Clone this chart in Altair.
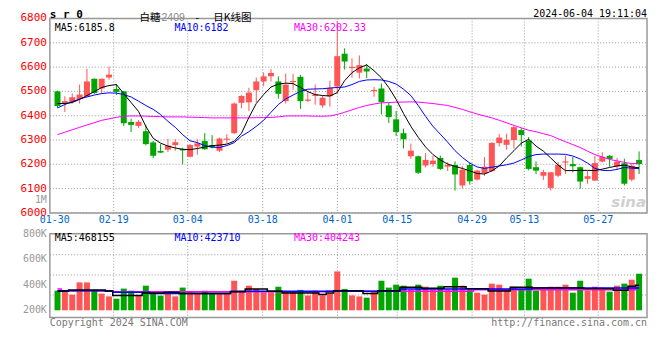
import altair as alt
import pandas as pd

# ---------------- data ----------------
opens = [6500, 6449, 6457, 6469, 6480, 6552, 6512, 6557, 6510, 6500,
         6374, 6358, 6336, 6290, 6255, 6260, 6279, 6263, 6231, 6273,
         6296, 6279, 6256, 6301, 6328, 6453, 6455, 6505, 6541, 6562,
         6541, 6460, 6538, 6560, 6462, 6481, 6442, 6480, 6520, 6655,
         6596, 6577, 6594, 6501, 6512, 6442, 6385, 6328, 6233, 6233,
         6195, 6201, 6226, 6190, 6197, 6113, 6197, 6137, 6163, 6172,
         6287, 6280, 6300, 6341, 6297, 6188, 6153, 6103, 6153, 6207,
         6201, 6188, 6140, 6133, 6211, 6235, 6192, 6204, 6137, 6218]
highs = [6503, 6480, 6492, 6528, 6593, 6553, 6553, 6602, 6530, 6502,
         6388, 6382, 6362, 6296, 6283, 6305, 6303, 6268, 6284, 6303,
         6328, 6320, 6310, 6324, 6455, 6485, 6515, 6557, 6578, 6592,
         6562, 6573, 6572, 6568, 6503, 6528, 6482, 6544, 6790, 6677,
         6636, 6648, 6613, 6518, 6532, 6453, 6419, 6347, 6285, 6236,
         6246, 6235, 6236, 6208, 6212, 6192, 6208, 6178, 6230, 6291,
         6325, 6326, 6360, 6350, 6312, 6212, 6178, 6168, 6210, 6236,
         6230, 6190, 6172, 6235, 6250, 6239, 6226, 6223, 6201, 6253]
lows = [6432, 6415, 6450, 6450, 6478, 6490, 6490, 6548, 6485, 6358,
        6333, 6350, 6278, 6225, 6247, 6250, 6256, 6200, 6228, 6240,
        6260, 6265, 6250, 6285, 6325, 6430, 6420, 6455, 6521, 6541,
        6470, 6450, 6507, 6428, 6456, 6445, 6433, 6437, 6490, 6590,
        6556, 6553, 6555, 6478, 6405, 6370, 6317, 6265, 6222, 6160,
        6187, 6190, 6176, 6172, 6092, 6100, 6116, 6133, 6153, 6168,
        6273, 6260, 6265, 6273, 6175, 6160, 6136, 6092, 6147, 6160,
        6167, 6099, 6120, 6132, 6207, 6190, 6180, 6113, 6130, 6160]
closes = [6440, 6460, 6476, 6487, 6541, 6493, 6552, 6569, 6498, 6369,
          6362, 6375, 6283, 6235, 6248, 6277, 6291, 6257, 6279, 6286,
          6262, 6269, 6306, 6306, 6450, 6481, 6495, 6541, 6562, 6576,
          6490, 6528, 6543, 6460, 6467, 6487, 6474, 6514, 6645, 6623,
          6601, 6608, 6582, 6506, 6456, 6394, 6333, 6303, 6256, 6165,
          6218, 6215, 6181, 6197, 6158, 6178, 6130, 6174, 6190, 6288,
          6310, 6301, 6353, 6320, 6181, 6174, 6168, 6167, 6197, 6212,
          6192, 6129, 6151, 6205, 6231, 6222, 6211, 6120, 6194, 6201]
ma5 = [6450, 6450, 6454, 6467, 6483, 6499, 6516, 6524, 6528, 6491,
       6454, 6418, 6356, 6307, 6287, 6275, 6267, 6262, 6260, 6265,
       6271, 6277, 6279, 6283, 6295, 6328, 6393, 6450, 6487, 6518,
       6530, 6534, 6532, 6516, 6499, 6487, 6483, 6481, 6495, 6544,
       6577, 6597, 6609, 6585, 6556, 6516, 6467, 6409, 6356, 6311,
       6271, 6240, 6218, 6201, 6191, 6183, 6173, 6162, 6160, 6173,
       6193, 6226, 6256, 6287, 6303, 6275, 6254, 6226, 6197, 6174,
       6174, 6175, 6175, 6174, 6180, 6187, 6193, 6197, 6189, 6185.8]
ma10 = [6432, 6446, 6458, 6469, 6477, 6485, 6491, 6494, 6493, 6487,
        6477, 6460, 6442, 6426, 6405, 6377, 6352, 6322, 6297, 6289,
        6277, 6271, 6269, 6277, 6289, 6316, 6334, 6356, 6381, 6414,
        6446, 6469, 6485, 6500, 6509, 6510, 6511, 6514, 6516, 6518,
        6528, 6541, 6547, 6548, 6547, 6541, 6530, 6509, 6483, 6442,
        6397, 6356, 6324, 6291, 6256, 6228, 6205, 6189, 6183, 6188,
        6193, 6198, 6205, 6218, 6232, 6240, 6242, 6242, 6242, 6241,
        6234, 6222, 6205, 6183, 6175, 6174, 6179, 6187, 6184, 6182]
ma30 = [6322, 6332, 6342, 6352, 6362, 6371, 6381, 6387, 6393, 6398,
        6399, 6399, 6398, 6397, 6396, 6395, 6395, 6395, 6394, 6393,
        6392, 6391, 6391, 6391, 6391, 6391, 6391, 6392, 6392, 6393,
        6395, 6399, 6399, 6399, 6399, 6398, 6398, 6399, 6405, 6414,
        6424, 6434, 6442, 6448, 6453, 6454, 6456, 6456, 6457, 6456,
        6453, 6450, 6446, 6442, 6434, 6426, 6416, 6407, 6399, 6391,
        6381, 6371, 6360, 6350, 6340, 6334, 6326, 6318, 6305, 6293,
        6281, 6269, 6254, 6240, 6230, 6220, 6214, 6208, 6203, 6202.33]
volumes = [354, 349, 323, 419, 419, 354, 331, 309, 291, 370,
           354, 317, 393, 336, 315, 341, 309, 378, 346, 331,
           354, 333, 331, 331, 432, 354, 393, 367, 341, 341,
           385, 349, 349, 360, 317, 354, 317, 331, 505, 367,
           317, 309, 299, 346, 432, 378, 401, 393, 362, 401,
           385, 362, 393, 362, 456, 393, 362, 338, 323, 409,
           401, 362, 385, 362, 448, 354, 370, 385, 385, 401,
           338, 432, 354, 385, 378, 346, 393, 409, 440, 487]
vma5 = [349, 349, 360, 360, 360, 360, 360, 349, 317, 317,
        317, 317, 336, 336, 336, 341, 341, 331, 331, 331,
        331, 331, 331, 331, 346, 346, 367, 367, 367, 349,
        349, 336, 336, 336, 336, 336, 323, 336, 354, 354,
        354, 354, 331, 331, 354, 354, 354, 380, 380, 380,
        372, 372, 372, 385, 385, 385, 370, 370, 370, 351,
        351, 351, 380, 380, 380, 375, 375, 375, 375, 375,
        375, 375, 370, 370, 370, 370, 357, 357, 388, 396]
vma10 = [354, 354, 354, 354, 354, 354, 354, 354, 341, 341,
         341, 341, 341, 331, 331, 331, 331, 331, 331, 331,
         331, 331, 331, 331, 349, 349, 349, 349, 349, 349,
         349, 349, 349, 349, 349, 349, 349, 349, 349, 349,
         349, 349, 349, 349, 349, 349, 349, 367, 367, 367,
         367, 367, 367, 367, 367, 367, 367, 367, 367, 367,
         367, 367, 367, 367, 367, 375, 375, 375, 375, 375,
         375, 375, 375, 375, 375, 375, 375, 375, 375, 375]
vma30 = [367, 354, 354, 354, 354, 354, 354, 354, 346, 346,
         346, 346, 346, 346, 346, 346, 346, 346, 346, 346,
         346, 346, 346, 346, 346, 346, 346, 346, 346, 346,
         346, 346, 346, 346, 346, 346, 346, 349, 349, 349,
         349, 349, 349, 349, 349, 349, 349, 349, 349, 349,
         349, 349, 349, 349, 349, 349, 349, 362, 362, 362,
         362, 362, 362, 362, 362, 362, 362, 362, 362, 362,
         362, 362, 362, 362, 362, 362, 362, 362, 362, 380]

tick_pos = [-0.36, 7.63, 17.68, 27.87, 38.03, 46.15, 56.32, 63.42, 73.45]
tick_labels = ["01-30", "02-19", "03-04", "03-18", "04-01", "04-15", "04-29", "05-13", "05-27"]
price_ticks = [6000, 6100, 6200, 6300, 6400, 6500, 6600, 6700, 6800]
vol_ticks = [200, 400, 600, 800]
vol_tick_labels = ["200K", "400K", "600K", "800K"]
vol_grid = [320, 477, 636]

# ---------------- styling ----------------
MONO = "DejaVu Sans Mono"
CJK = "Noto Sans CJK SC"
RED = "#ff5555"
GREEN = "#00a600"
GRID = "#9a9a9a"
FRAME = "#999999"
W, PH, VT, VB = 599, 195, 216, 300

df = pd.DataFrame({
    "i": list(range(len(opens))), "open": opens, "high": highs, "low": lows,
    "close": closes, "vol": volumes, "ma5": ma5, "ma10": ma10, "ma30": ma30,
    "vma5": vma5, "vma10": vma10, "vma30": vma30,
})
ticks = pd.DataFrame({"pos": tick_pos, "label": tick_labels})
vlabels = pd.DataFrame({"v": vol_ticks, "label": vol_tick_labels})
vgrid = pd.DataFrame({"v": vol_grid})
pgrid = pd.DataFrame({"p": price_ticks})

xscale = alt.Scale(domain=[-0.36, 79.4], nice=False, zero=False)
pscale = alt.Scale(domain=[6000, 6800], range=[PH, 0], nice=False, zero=False)
vscale = alt.Scale(domain=[200, 800], range=[292.7, VT], nice=False, zero=False)
color = alt.Color("dir:N", scale=alt.Scale(domain=["up", "down"], range=[RED, GREEN]), legend=None)


def X(field):
    return alt.X(f"{field}:Q", scale=xscale, axis=None)


def PY(field):
    return alt.Y(f"{field}:Q", scale=pscale, axis=None)


def VY(field):
    return alt.Y(f"{field}:Q", scale=vscale, axis=None)


def label(text, x, y, color="black", size=10, align="left", font=MONO, weight="normal",
          style="normal", baseline="middle"):
    return alt.Chart(pd.DataFrame({"t": [text]})).mark_text(
        align=align, baseline=baseline, color=color, fontSize=size, font=font,
        fontWeight=weight, fontStyle=style
    ).encode(x=alt.value(x), y=alt.value(y), text="t:N")


base = alt.Chart(df).transform_calculate(dir="datum.close >= datum.open ? 'up' : 'down'")

# price gridlines and tick labels (drawn through the price scale)
hgrid_main = alt.Chart(pgrid).mark_rule(color=GRID, strokeDash=[1, 2]).encode(
    y=PY("p"), x=alt.value(0), x2=alt.value(W))
plabels = alt.Chart(pgrid).mark_text(align="right", baseline="middle", color="#ff0000",
                                     font=MONO, fontSize=11).encode(
    x=alt.value(-3), y=PY("p"), text=alt.Text("p:Q", format="d"))

vgrid_main = alt.Chart(ticks).transform_filter("datum.pos > 0").mark_rule(
    color=GRID, strokeDash=[1, 2]).encode(x=X("pos"), y=alt.value(0), y2=alt.value(PH))
xlabels = alt.Chart(ticks).mark_text(color="#0066cc", font=MONO, fontSize=10, baseline="middle").encode(
    x=X("pos"), y=alt.value(202.5), text="label:N")
watermark = label("sina", 598, 184, color="#d0d0d0", size=15, align="right",
                  font="DejaVu Sans", weight="bold", style="italic")

wicks = base.mark_rule(strokeWidth=1).encode(x=X("i"), y=PY("low"), y2="high:Q", color=color)
bodies = base.mark_bar(size=6).encode(x=X("i"), y=PY("open"), y2="close:Q", color=color)
l5 = base.mark_line(color="black", strokeWidth=1).encode(x=X("i"), y=PY("ma5"))
l10 = base.mark_line(color="#0000ff", strokeWidth=1).encode(x=X("i"), y=PY("ma10"))
l30 = base.mark_line(color="#ff00ff", strokeWidth=1).encode(x=X("i"), y=PY("ma30"))
frame_main = alt.Chart(pd.DataFrame({"a": [0]})).mark_rect(
    fill="white", fillOpacity=0, stroke=FRAME, strokeWidth=1.5).encode(
    x=alt.value(0), x2=alt.value(W), y=alt.value(0), y2=alt.value(PH))

TOP = -9.5
BASE_CJK = 2.2
LEG = 10
price_group = alt.layer(
    hgrid_main, vgrid_main, watermark, wicks, bodies, l30, l10, l5, frame_main, xlabels, plabels,
    label("s r 0", 0, TOP, size=11, weight="bold", baseline="top"),
    label("白糖", 90, BASE_CJK, size=10.5, font=CJK, baseline="alphabetic"),
    label("2409", 112, BASE_CJK, color="#888888", size=10.5, font="Liberation Sans", baseline="alphabetic"),
    label("-", 146, BASE_CJK, size=10.5, font=CJK, baseline="alphabetic"),
    label("日K线图", 164, BASE_CJK, size=10.5, font=CJK, baseline="alphabetic"),
    label("2024-06-04 19:11:04", W, TOP, size=10, align="right", baseline="top"),
    label("MA5:6185.8", 5, LEG),
    label("MA10:6182", 125, LEG, color="#0000ff"),
    label("MA30:6202.33", 245, LEG, color="#ff00ff"),
    label("1M", -3, 182, color="#999999", size=10, align="right"),
)

vgrid_vol = alt.Chart(ticks).transform_filter("datum.pos > 0").mark_rule(
    color=GRID, strokeDash=[1, 2]).encode(x=X("pos"), y=alt.value(VT), y2=alt.value(303))
hgrid_vol = alt.Chart(vgrid).mark_rule(color=GRID, strokeDash=[1, 2]).encode(
    y=VY("v"), x=alt.value(0), x2=alt.value(W))
vbars = base.mark_bar(size=6).encode(x=X("i"), y=VY("vol"), y2=alt.datum(200), color=color)
v5 = base.mark_line(color="black", strokeWidth=1.5, interpolate="step").encode(x=X("i"), y=VY("vma5"))
v10 = base.mark_line(color="#0000ff", strokeWidth=1.5, interpolate="step").encode(x=X("i"), y=VY("vma10"))
v30 = base.mark_line(color="#ff00ff", strokeWidth=1.5, interpolate="step").encode(x=X("i"), y=VY("vma30"))
vlab = alt.Chart(vlabels).mark_text(align="right", baseline="middle", color="#999999",
                                    font=MONO, fontSize=10).encode(
    x=alt.value(-3), y=VY("v"), text="label:N")
frame_vol = alt.Chart(pd.DataFrame({"a": [0]})).mark_rect(
    fill="white", fillOpacity=0, stroke=FRAME, strokeWidth=1.5).encode(
    x=alt.value(0), x2=alt.value(W), y=alt.value(VT), y2=alt.value(VB))

vol_group = alt.layer(
    hgrid_vol, vgrid_vol, vbars, v30, v10, v5, frame_vol, vlab,
    label("MA5:468155", 5, 220.5),
    label("MA10:423710", 125, 220.5, color="#0000ff"),
    label("MA30:404243", 245, 220.5, color="#ff00ff"),
    label("Copyright 2024 SINA.COM", 0, 305, color="#777777"),
    label("http://finance.sina.com.cn", W, 305, color="#777777", align="right"),
)

chart = alt.layer(price_group, vol_group).resolve_scale(y="independent").properties(
    width=W, height=VB,
    autosize=alt.AutoSizeParams(type="none"),
    padding={"left": 42, "top": 10, "right": 5, "bottom": 30},
).configure_view(stroke=None)

chart.save("out.html", embed_options={"renderer": "svg", "actions": False})
